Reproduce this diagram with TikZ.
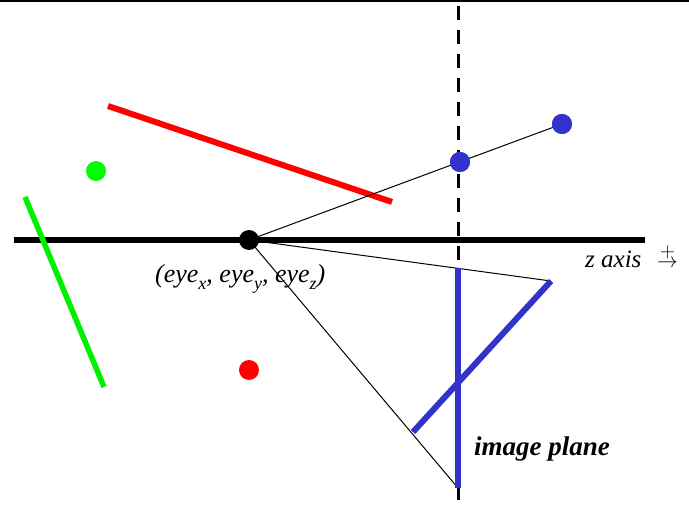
\documentclass[tikz,border=0pt]{standalone}
\usepackage{fontspec}
\setmainfont{Liberation Serif}
\newcommand{\lsub}[1]{\raisebox{-7pt}{\fontsize{18}{18}\selectfont #1}}
\begin{document}
\begin{tikzpicture}[x=1pt,y=-1pt,
  thinray/.style={line width=1pt,black},
  fatline/.style={line width=6pt},
  dotmark/.style={circle,inner sep=0pt,minimum size=20pt},
  lbl/.style={inner sep=0pt,font=\fontsize{25}{27}\selectfont\itshape}]
\useasboundingbox (0,0) rectangle (689,508);
\fill[white] (0,0) rectangle (689,508);
% top border
\draw[line width=2.5pt] (0,1) -- (689,1);
% points
\coordinate (eye) at (249,240);
\coordinate (axL) at (14,240);
\coordinate (axR) at (645,240);
\coordinate (dT) at (458,6);
\coordinate (dB) at (458,508);
\coordinate (rA) at (108,106);
\coordinate (rB) at (392,202);
\coordinate (gA) at (25,197);
\coordinate (gB) at (104,387);
\coordinate (bdA) at (413,432);
\coordinate (bdB) at (551,281);
\coordinate (bvT) at (458,268);
\coordinate (bvB) at (458,488);
% dashed image plane
\draw[line width=3pt,dash pattern=on 14pt off 10pt] (dT) -- (dB);
% axis
\draw[line width=6pt] (axL) -- (axR);
% red line
\draw[fatline,red] (rA) -- (rB);
% green line
\draw[fatline,line width=5.5pt,color={rgb,255:red,0;green,240;blue,0}] (gA) -- (gB);
% rays
\node[dotmark,fill={rgb,255:red,51;green,51;blue,204}] (b1) at (460,162) {};
\node[dotmark,fill={rgb,255:red,51;green,51;blue,204}] (b2) at (562,124) {};
\draw[thinray] (eye) -- (b2.center);
\draw[thinray] (eye) -- (bdB);
\draw[thinray] (eye) -- (bvB);
\node[dotmark,fill={rgb,255:red,51;green,51;blue,204}] at (b1) {};
\node[dotmark,fill={rgb,255:red,51;green,51;blue,204}] at (b2) {};
% blue lines
\draw[fatline,color={rgb,255:red,51;green,51;blue,204}] (bdA) -- (bdB);
\draw[fatline,color={rgb,255:red,51;green,51;blue,204},line cap=butt] (bvT) -- (bvB);
% dots
\node[dotmark,fill={rgb,255:red,0;green,255;blue,0}] (gdot) at (96,171) {};
\node[dotmark,fill=red] (rdot) at (249,370) {};
\node[dotmark,fill=black] (eyedot) at (eye) {};
% labels
\node[lbl,anchor=base west,font=\fontsize{26}{28}\selectfont\itshape] (eyelbl) at (155,283) {(eye\lsub{x}, eye\lsub{y}, eye\lsub{z})};
\node[lbl,anchor=base west] (zlbl) at (585,268) {z axis};
\node[inner sep=0pt,anchor=base west,font=\fontsize{22}{22}\selectfont] (zsym) at (657,268) {$\stackrel{\textstyle +}{\rightarrow}$};
\node[lbl,anchor=base west,font=\fontsize{27}{29}\selectfont\bfseries\itshape] (iplbl) at (474,455) {image plane};
\end{tikzpicture}
\end{document}
